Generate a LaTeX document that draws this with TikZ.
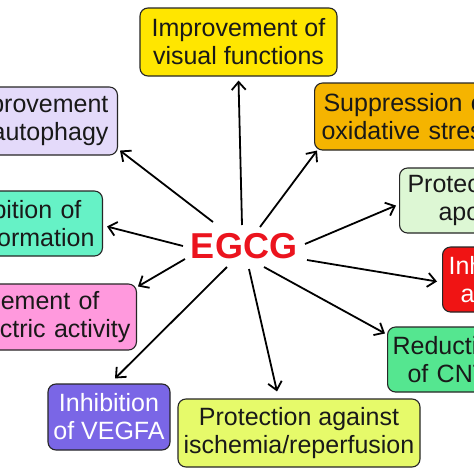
\documentclass[tikz,border=0pt]{standalone}
\usepackage{fontspec}
\setmainfont{Liberation Sans}
\usetikzlibrary{arrows.meta}
\definecolor{cyel}{HTML}{FFE600}
\definecolor{corange}{HTML}{F5B400}
\definecolor{clav}{HTML}{E4DAFA}
\definecolor{caqua}{HTML}{66F2C6}
\definecolor{cpink}{HTML}{FF99DD}
\definecolor{cpurp}{HTML}{7A66E6}
\definecolor{cygreen}{HTML}{E6FA6A}
\definecolor{cgreen}{HTML}{55E690}
\definecolor{clgreen}{HTML}{DDF7D4}
\definecolor{cred}{HTML}{F01414}
\definecolor{cegcg}{HTML}{EB141E}
\begin{document}
\begin{tikzpicture}[x=1pt,y=-1pt,
  box/.style={draw=black!85, line width=1.1pt, rounded corners=8pt,
    font=\fontsize{25}{28}\selectfont, text=black!90, inner ysep=0pt},
  arr/.style={-{Straight Barb[length=8pt,width=14pt]}, line width=1.8pt}]
\clip (0,0) rectangle (474,474);
\fill[white] (0,0) rectangle (474,474);
\node[font=\bfseries\fontsize{36}{40}\selectfont, text=cegcg, inner sep=0pt] (egcg) at (244,246) {EGCG};

\node[box, fill=cyel, minimum width=197pt, minimum height=68pt, align=center] (vis) at (238.5,42) {Improvement of\\visual functions};
\node[box, fill=corange, anchor=west, text width=240pt, inner xsep=7pt, minimum height=67pt, align=left] (sup) at (314,116.5) {\rule{2pt}{0pt}Suppression o\\oxidative stres};
\node[box, fill=clav, anchor=east, text width=200pt, inner xsep=9pt, minimum height=68pt, align=right] (aut) at (118,121) {provement\\autophagy};
\node[box, fill=caqua, anchor=east, text width=200pt, inner xsep=8pt, minimum height=65pt, align=right] (ros) at (103,223.5) {bition of\rule{13pt}{0pt}\\formation};
\node[box, fill=cpink, anchor=east, text width=200pt, inner xsep=6pt, minimum height=66pt, align=right] (ele) at (137,317) {ement of\rule{31pt}{0pt}\\ctric activity};
\node[box, fill=cpurp, text=white, minimum width=122pt, minimum height=66pt, align=center] (veg) at (109,417) {Inhibition\\of VEGFA};
\node[box, fill=cygreen, inner xsep=4pt, minimum width=242pt, minimum height=68pt, align=center] (isc) at (299,433) {Protection against\\ischemia/reperfusion};
\node[box, fill=cgreen, anchor=west, text width=200pt, inner xsep=5pt, minimum height=65pt, align=left] (cnt) at (387,359.5) {Reducti\\\rule{15pt}{0pt}of CNT};
\node[box, fill=cred, text=white, anchor=west, text width=200pt, inner xsep=6pt, minimum height=65pt, align=left] (ang) at (442,279.5) {Inh\\\rule{12pt}{0pt}a};
\node[box, fill=clgreen, anchor=west, text width=200pt, inner xsep=8pt, minimum height=65pt, align=left] (apo) at (399,200.5) {Protec\\\rule{31pt}{0pt}apo};

\draw[arr] ([shift={(-2,-21)}]egcg.center) -- ([shift={(0,4)}]vis.south);
\draw[arr] ([shift={(16,-19)}]egcg.center) -- ([shift={(3,0)}]sup.south west);
\draw[arr] ([shift={(61,-2)}]egcg.center) -- ([shift={(-3,5)}]apo.west);
\draw[arr] ([shift={(63,14)}]egcg.center) -- ([shift={(-5,2)}]ang.west);
\draw[arr] ([shift={(20,21)}]egcg.center) -- ([shift={(-2,7)}]cnt.north west);
\draw[arr] ([shift={(5,23)}]egcg.center) -- ([shift={(-22,-7)}]isc.north);
\draw[arr] ([shift={(-17,21)}]egcg.center) -- ([shift={(6,-5)}]veg.north);
\draw[arr] ([shift={(-59,13)}]egcg.center) -- ([shift={(1,3)}]ele.north east);
\draw[arr] ([shift={(-61,0)}]egcg.center) -- ([shift={(4,3)}]ros.east);
\draw[arr] ([shift={(-31,-24)}]egcg.center) -- ([shift={(2,-5)}]aut.south east);
\end{tikzpicture}
\end{document}
